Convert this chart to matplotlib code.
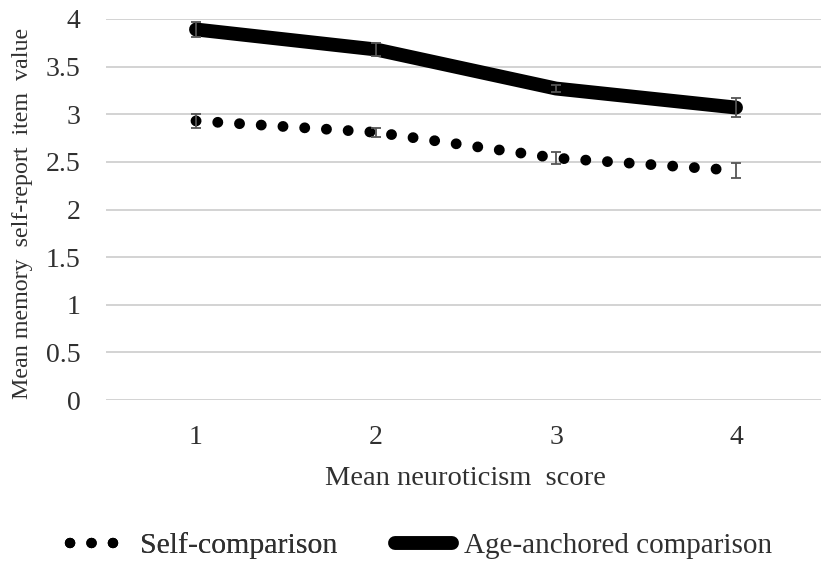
import matplotlib
matplotlib.use("Agg")
import matplotlib.pyplot as plt
from matplotlib.lines import Line2D

categories = ["1", "2", "3", "4"]
self_vals = [2.93, 2.81, 2.54, 2.41]
self_err = [0.07, 0.05, 0.065, 0.08]
age_vals = [3.89, 3.68, 3.27, 3.07]
age_err = [0.08, 0.07, 0.04, 0.10]
yticks = [0, 0.5, 1, 1.5, 2, 2.5, 3, 3.5, 4]
ytick_labels = ["0", "0.5", "1", "1.5", "2", "2.5", "3", "3.5", "4"]

plt.rcParams['font.family'] = ['Liberation Serif', 'DejaVu Serif']
TXT = "#303030"

W, H = 821, 563
L, R, T, B = 106, 826, 19, 400
fig = plt.figure(figsize=(W / 100, H / 100), dpi=100)
ax = fig.add_axes([L / W, 1 - B / H, (R - L) / W, (B - T) / H])
x = list(range(1, len(categories) + 1))

for yv in yticks:
    ax.axhline(yv, color="#d0d0d0", lw=1.3, zorder=0)

ax.errorbar(x, age_vals, yerr=age_err, fmt="none", ecolor="#555555", elinewidth=1.3,
            capsize=3.6, capthick=1.3, zorder=3)
ax.errorbar(x, self_vals, yerr=self_err, fmt="none", ecolor="#555555", elinewidth=1.3,
            capsize=3.6, capthick=1.3, zorder=3)
ax.plot(x, age_vals, color="black", lw=10, solid_capstyle="round", zorder=2)
ax.plot(x, self_vals, color="black", lw=7.8, linestyle=(0, (0.01, 2.0)),
        dash_capstyle="round", zorder=2)

ax.set_xlim(0.5, 4.5)
ax.set_ylim(0, 4)
ax.set_xticks(x)
ax.set_xticklabels(categories)
ax.set_yticks(yticks)
ax.set_yticklabels(ytick_labels)
ax.tick_params(axis="both", length=0, labelsize=20, colors=TXT)
ax.tick_params(axis="y", pad=18.5)
ax.tick_params(axis="x", pad=18)
for s in ax.spines.values():
    s.set_visible(False)
ax.set_xlabel("Mean neuroticism  score", fontsize=20.5, color=TXT)
ax.set_ylabel("Mean memory  self-report  item  value", fontsize=17.3, color=TXT)
ax.xaxis.set_label_coords((465 - L) / (R - L), -(466 - B) / (B - T))
ax.yaxis.set_label_coords((33 - L) / (R - L), (B - 213) / (B - T))

ly = 1 - 546 / H
h1 = Line2D([0], [0], color="black", lw=7.5, linestyle=(0, (0.01, 2.05)), dash_capstyle="round")
h2 = Line2D([0], [0], color="black", lw=10, solid_capstyle="round")
leg1 = fig.legend([h1], ["Self-comparison"], loc="center left", bbox_to_anchor=(70 / W, ly),
                  frameon=False, fontsize=21.5, handlelength=1.5, handletextpad=0.85,
                  borderpad=0, borderaxespad=0, labelcolor=TXT)
fig.add_artist(leg1)
leg2 = fig.legend([h2], ["Age-anchored comparison"], loc="center left", bbox_to_anchor=(395 / W, ly),
                  frameon=False, fontsize=21, handlelength=1.95, handletextpad=0.4,
                  borderpad=0, borderaxespad=0, labelcolor=TXT)

fig.savefig("out.png", dpi=100)
